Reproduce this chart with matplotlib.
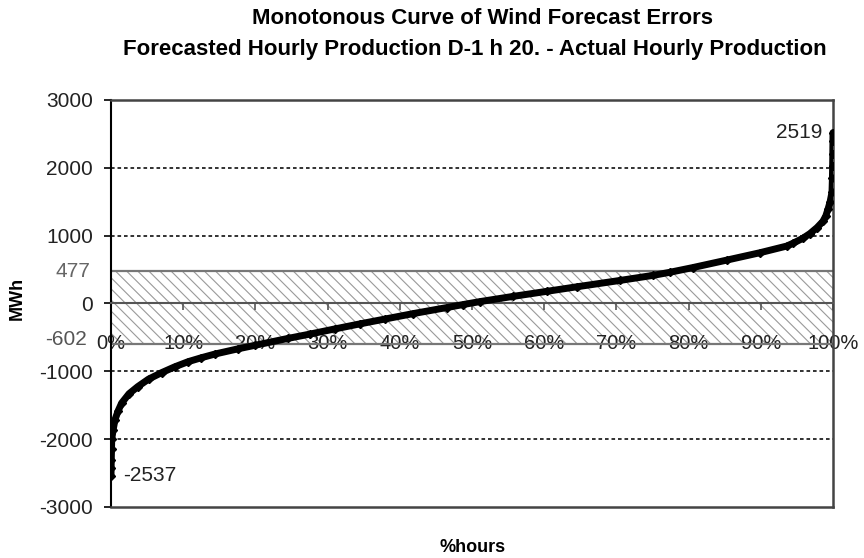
import matplotlib
matplotlib.use('Agg')
import matplotlib.pyplot as plt

plt.rcParams['font.family'] = ['Liberation Sans', 'DejaVu Sans']
plt.rcParams['hatch.linewidth'] = 0.8
plt.rcParams['axes.unicode_minus'] = False

# ---- data ----
hours_frac = [0.0, 0.0002, 0.0004, 0.0007, 0.001, 0.003, 0.0055, 0.010, 0.0148,
              0.025, 0.037, 0.052, 0.070, 0.088, 0.107, 0.125, 0.144, 0.176,
              0.200, 0.245, 0.276, 0.310, 0.345, 0.380, 0.418, 0.465, 0.488,
              0.511, 0.557, 0.604, 0.645, 0.705, 0.751, 0.774, 0.806, 0.853,
              0.899, 0.936, 0.945, 0.958, 0.968, 0.978, 0.986, 0.990,
              0.993, 0.996, 0.9986, 0.9992, 0.9995, 0.9997, 0.9999, 1.0]
errors_mwh = [-2537, -2420, -2300, -2150, -2000, -1860, -1713, -1580, -1467,
              -1330, -1226, -1115, -1020, -935, -857, -800, -745, -668,
              -615, -515, -450, -375, -300, -228, -150, -60, -15,
              28, 105, 180, 246, 340, 415, 460, 530, 640,
              749, 847, 890, 960, 1030, 1120, 1210, 1290,
              1388, 1500, 1640, 1850, 2024, 2200, 2400, 2519]
y_ticks = [-3000, -2000, -1000, 0, 1000, 2000, 3000]
grid_levels = [-2000, -1000, 1000, 2000]
x_ticks = [0.0, 0.1, 0.2, 0.3, 0.4, 0.5, 0.6, 0.7, 0.8, 0.9, 1.0]
x_tick_labels = ['0%', '10%', '20%', '30%', '40%', '50%', '60%', '70%', '80%', '90%', '100%']
band_upper = 477
band_lower = -602
max_value = 2519
min_value = -2537
title_1 = 'Monotonous Curve of Wind Forecast Errors'
title_2 = 'Forecasted Hourly Production D-1 h 20. - Actual Hourly Production'

W, H = 864, 558
fig = plt.figure(figsize=(W / 100, H / 100), dpi=100)
L, R, T, B = 111, 833, 100, 507
ax = fig.add_axes([L / W, 1 - B / H, (R - L) / W, (B - T) / H])
ax.set_xlim(0, 1)
ax.set_ylim(-3000, 3000)

# hatched band
ax.axhspan(band_lower, band_upper, facecolor='white', edgecolor='#9a9a9a',
           hatch='\\\\\\', linewidth=0, zorder=1)
ax.axhline(band_upper, color='#777777', lw=1.6, zorder=2)
ax.axhline(band_lower, color='#777777', lw=1.6, zorder=2)

# dashed grid
for g in grid_levels:
    ax.axhline(g, color='#222222', lw=1.3, ls=(0, (2, 1.6)), zorder=2)

# curve
ax.plot(hours_frac, errors_mwh, color='black', lw=5, marker='D', ms=4,
        solid_capstyle='round', solid_joinstyle='round', zorder=5)

# x axis at zero, frame bottom at -3000
ax.spines['bottom'].set_position(('data', 0))
ax.spines['bottom'].set_color('#555555')
ax.spines['bottom'].set_linewidth(1.5)
ax.spines['bottom'].set_zorder(3)
ax.axhline(-3000, color='#444444', lw=1.8, clip_on=False, zorder=3)
ax.set_xticks(x_ticks, x_tick_labels)
ax.tick_params(axis='x', direction='out', length=5, width=1.2, pad=17,
               labelsize=14.5, color='#555555', labelcolor='#222222')

ax.set_yticks(y_ticks)
ax.tick_params(axis='y', direction='out', length=5, width=1.2, pad=8,
               labelsize=15, labelcolor='#222222')
for s in ['top', 'right']:
    ax.spines[s].set_color('#444444')
    ax.spines[s].set_linewidth(1.8)
ax.spines['left'].set_color('black')
ax.spines['left'].set_linewidth(1.5)

# band labels
ax.annotate(str(band_upper), xy=(0, band_upper), xycoords=('axes fraction', 'data'),
            xytext=(-21, 0), textcoords='offset pixels', ha='right', va='center',
            fontsize=15, color='#666666')
ax.annotate(str(band_lower), xy=(0, band_lower), xycoords=('axes fraction', 'data'),
            xytext=(-24, 5), textcoords='offset pixels', ha='right', va='center',
            fontsize=15, color='#555555')

# extreme labels
ax.annotate(str(max_value), xy=(1.0, max_value), xytext=(-11, 0),
            textcoords='offset pixels', ha='right', va='center', fontsize=15,
            color='#222222')
ax.annotate(str(min_value), xy=(0.0, min_value), xytext=(12, 0),
            textcoords='offset pixels', ha='left', va='center', fontsize=15,
            color='#222222')

# titles and axis labels
fig.text(482 / W, 1 - 18 / H, title_1, ha='center', va='center', fontsize=16,
         fontweight='bold')
fig.text(475 / W, 1 - 50 / H, title_2, ha='center', va='center', fontsize=16,
         fontweight='bold')
fig.text(473 / W, 1 - 547 / H, '%hours', ha='center', va='center', fontsize=13,
         fontweight='bold')
fig.text(17 / W, 1 - 298 / H, 'MWh', ha='center', va='center', fontsize=13,
         fontweight='bold', rotation=90)

fig.savefig('out.png', dpi=100)
